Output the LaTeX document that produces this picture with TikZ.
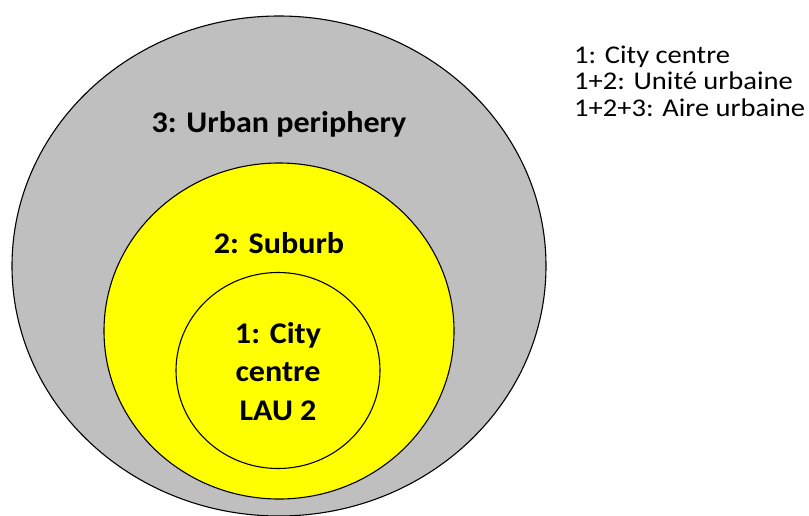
\documentclass[tikz,border=0pt]{standalone}
\usepackage{fontspec}
\setmainfont{Carlito}[FakeStretch=1.07]
\newfontfamily\legendfont{Carlito}[FakeStretch=1.12]
\definecolor{ringgray}{HTML}{BFBFBF}
\definecolor{ringyellow}{HTML}{FFFF00}
\begin{document}
\begin{tikzpicture}[x=1pt,y=-1pt,
  ring/.style={draw=black,line width=1.1pt},
  zonelabel/.style={font=\fontsize{30}{38.5}\selectfont\bfseries,align=center,anchor=base,inner sep=0pt},
  legendtext/.style={font=\legendfont\fontsize{25.5}{26.7}\selectfont,align=left,anchor=base west,inner sep=0pt}]
\useasboundingbox (0,0) rectangle (809,515);
\draw[ring,fill=ringgray] (279,266) ellipse [x radius=267pt, y radius=250pt];
\draw[ring,fill=ringyellow] (279,331) ellipse [x radius=175pt, y radius=168pt];
\draw[ring,fill=ringyellow] (278,370.5) ellipse [x radius=102pt, y radius=98pt];
\node[zonelabel] (periphery) at (279,132) {3: Urban periphery};
\node[zonelabel] (suburb) at (279,253) {2: Suburb};
\node[zonelabel] (centre) at (278,420) {1: City\\centre\\LAU 2};
\node[legendtext] (legend) at (574,116.5) {1: City centre\\1+2: Unité urbaine\\1+2+3: Aire urbaine};
\end{tikzpicture}
\end{document}
